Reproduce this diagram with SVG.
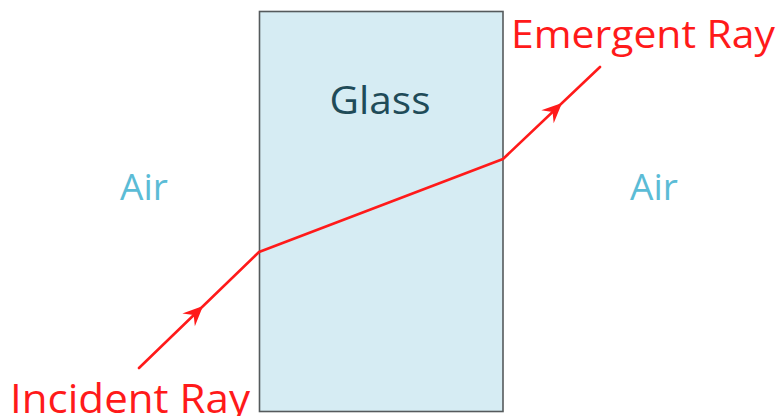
<svg xmlns="http://www.w3.org/2000/svg" width="783" height="416" viewBox="0 0 783 416">
<style>
.ray{fill:none;stroke:#ff1a1a;stroke-width:2.6;stroke-linecap:round;stroke-linejoin:round}
.lbl{font-family:"Open Sans","Liberation Sans",sans-serif;fill:#ff1a1a}
.air{font-family:"Open Sans","Liberation Sans",sans-serif;fill:#5bbcd6;font-size:37px}
</style>
<defs>
<path id="ah" d="M0,0 L-20,-9 L-13,0 L-20,9 Z" fill="#ff1a1a"/>
</defs>
<rect width="783" height="416" fill="#ffffff"/>
<g id="glass">
<rect x="259.5" y="11.5" width="243.5" height="400" fill="#d6ecf3" stroke="#555a5c" stroke-width="1.6"/>
<text x="380" y="114" text-anchor="middle" font-family="Open Sans, Liberation Sans, sans-serif" font-size="39" fill="#1f4b58" textLength="101" lengthAdjust="spacingAndGlyphs">Glass</text>
</g>
<g id="air-left"><text class="air" x="144" y="200" text-anchor="middle">Air</text></g>
<g id="air-right"><text class="air" x="654" y="200" text-anchor="middle">Air</text></g>
<g id="incident-label"><text class="lbl" x="10" y="413" font-size="41" textLength="240" lengthAdjust="spacingAndGlyphs">Incident Ray</text></g>
<g id="emergent-label"><text class="lbl" x="511" y="48" font-size="38" textLength="264" lengthAdjust="spacingAndGlyphs">Emergent Ray</text></g>
<g id="connectors">
<polyline class="ray" points="139,368 259,252 503,159 600,67"/>
<use href="#ah" transform="translate(203,306) rotate(-44)"/>
<use href="#ah" transform="translate(562,103) rotate(-43.5)"/>
</g>
</svg>
